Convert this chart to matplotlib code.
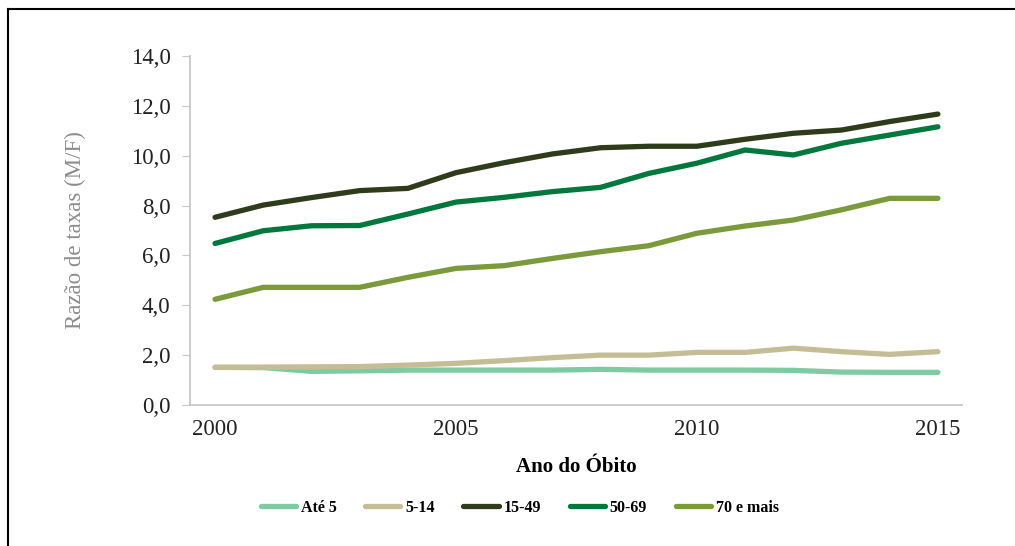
import matplotlib
matplotlib.use('Agg')
import matplotlib.pyplot as plt
from matplotlib.lines import Line2D

years = list(range(2000, 2016))

ate_5 = [1.51, 1.50, 1.35, 1.37, 1.40, 1.40, 1.40, 1.40, 1.43, 1.40,
         1.40, 1.40, 1.39, 1.32, 1.31, 1.31]
de_5_14 = [1.51, 1.52, 1.53, 1.54, 1.60, 1.67, 1.78, 1.90, 2.00, 2.00,
           2.11, 2.11, 2.28, 2.14, 2.03, 2.14]
de_15_49 = [7.53, 8.02, 8.32, 8.60, 8.69, 9.32, 9.72, 10.07, 10.32, 10.38,
            10.38, 10.66, 10.90, 11.03, 11.37, 11.67]
de_50_69 = [6.48, 6.99, 7.19, 7.20, 7.66, 8.14, 8.33, 8.56, 8.73, 9.29,
            9.70, 10.23, 10.03, 10.50, 10.83, 11.16]
mais_70 = [4.24, 4.72, 4.72, 4.72, 5.12, 5.48, 5.59, 5.88, 6.15, 6.39,
           6.89, 7.18, 7.42, 7.83, 8.29, 8.29]

labels = ['Até 5', '5-14', '15-49', '50-69', '70 e mais']
colors = ['#7ecaa3', '#c5bd95', '#2f3c1b', '#00773d', '#7a9a3b']
series = [ate_5, de_5_14, de_15_49, de_50_69, mais_70]

plt.rcParams['font.family'] = ['Liberation Serif', 'DejaVu Serif']

fig = plt.figure(figsize=(10.15, 5.46), dpi=100)
ax = fig.add_axes([190 / 1015, 1 - 405 / 546, (962 - 190) / 1015, (405 - 56) / 546])

for vals, lab, col in zip(series, labels, colors):
    ax.plot(years, vals, color=col, linewidth=3.8, label=lab,
            solid_capstyle='round', solid_joinstyle='round')

ax.set_xlim(1999.48, 2015.5)
ax.set_ylim(0, 14)
ax.set_yticks([0, 2, 4, 6, 8, 10, 12, 14])
ax.set_yticklabels([f'{v:.1f}'.replace('.', ',') for v in range(0, 16, 2)])
ax.set_xticks([2000, 2005, 2010, 2015])
ax.set_xticklabels(['2000', '2005', '2010', '2015'])

for s in ['top', 'right']:
    ax.spines[s].set_visible(False)
for s in ['left', 'bottom']:
    ax.spines[s].set_color('#c8c8c8')
    ax.spines[s].set_linewidth(1.3)

ax.tick_params(axis='y', length=6, color='#c8c8c8', labelsize=16.5, pad=8,
               labelcolor='#222222')
ax.tick_params(axis='x', length=0, labelsize=16.5, pad=10, labelcolor='#222222')

ax.set_ylabel('Razão de taxas (M/F)', color='#8c8c8c', fontsize=16.5, labelpad=32)
ax.set_xlabel('Ano do Óbito', fontsize=15, fontweight='bold', labelpad=12)

fig.legend(loc='center', bbox_to_anchor=(0.512, 1 - 508 / 546), ncol=5,
           frameon=False, handlelength=2.2, columnspacing=1.8, handletextpad=0.3,
           prop={'size': 11.5, 'weight': 'bold'})

# frame lines on top and left of the figure
fig.add_artist(Line2D([8 / 1015, 1], [1 - 9 / 546, 1 - 9 / 546], color='black', linewidth=1.5))
fig.add_artist(Line2D([8 / 1015, 8 / 1015], [0, 1 - 9 / 546], color='black', linewidth=1.5))

fig.savefig('out.png', dpi=100)
